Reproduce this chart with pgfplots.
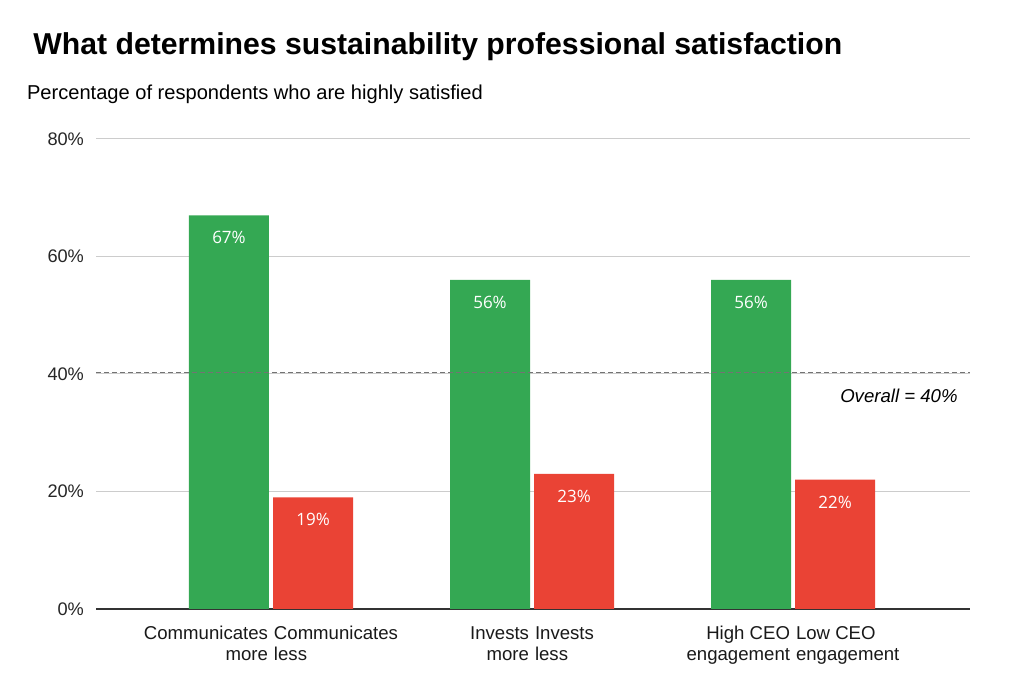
\documentclass[border=0pt]{standalone}
\usepackage{pgfplots}
\pgfplotsset{compat=1.18}
\usepackage{fontspec}
\setmainfont{Liberation Sans}
\newfontfamily\labelfont{Open Sans}
\definecolor{gg}{HTML}{34A853}
\definecolor{rr}{HTML}{EA4335}
\definecolor{gridc}{HTML}{CCCCCC}
\definecolor{axc}{HTML}{333333}
\begin{document}
\begin{tikzpicture}
\path[use as bounding box] (0,0) rectangle (511.5pt,337pt);
\node[anchor=base west, inner sep=0pt, font=\bfseries\fontsize{15.1}{17}\selectfont] at (16.5pt,309.5pt) {What determines sustainability professional satisfaction};
\node[anchor=base west, inner sep=0pt, font=\fontsize{10.05}{12}\selectfont] at (13.3pt,287pt) {Percentage of respondents who are highly satisfied};
\begin{axis}[at={(48pt,32.5pt)}, anchor=south west, scale only axis,
  width=437pt, height=235pt,
  xmin=-0.6705, xmax=2.678, ymin=0, ymax=80,
  ytick={0,20,40,60,80},
  yticklabel={\pgfmathprintnumber{\tick}\%},
  /pgf/number format/assume math mode=true,
  xtick={0,1,2},
  xticklabels={
    {\begin{tabular}{@{}r@{\hspace{3pt}}l@{}}Communicates & Communicates\\ more & less\end{tabular}},
    {\begin{tabular}{@{}r@{\hspace{3pt}}l@{}}Invests & Invests\\ more & less\end{tabular}},
    {\begin{tabular}{@{}r@{\hspace{3pt}}l@{}}High CEO & Low CEO\\ engagement & engagement\end{tabular}}},
  major tick length=0pt,
  axis x line*=bottom, axis y line*=left,
  x axis line style={draw=axc, line width=0.7pt, -},
  y axis line style={draw=none},
  ymajorgrids, grid style={draw=gridc, line width=0.5pt},
  yticklabel style={font=\fontsize{9.1}{10.5}\selectfont, text=black!85, xshift=-2.5pt},
  xticklabel style={font=\fontsize{9.3}{10.5}\selectfont, text=black!90, yshift=-4.2pt},
  clip=false,
]
\addplot[ybar, bar width=40pt, bar shift=0pt, fill=gg, draw=none,
  nodes near coords={\pgfmathprintnumber{\pgfplotspointmeta}\%},
  nodes near coords style={anchor=north, text=white, font=\labelfont\fontsize{8.5}{10}\selectfont, yshift=-4.5pt}]
  coordinates {(-0.161,67) (0.839,56) (1.839,56)};
\addplot[ybar, bar width=40pt, bar shift=0pt, fill=rr, draw=none,
  nodes near coords={\pgfmathprintnumber{\pgfplotspointmeta}\%},
  nodes near coords style={anchor=north, text=white, font=\labelfont\fontsize{8.5}{10}\selectfont, yshift=-4.5pt}]
  coordinates {(0.161,19) (1.161,23) (2.161,22)};
\addplot[color=black!55, line width=0.6pt, dash pattern=on 2.5pt off 1.5pt] coordinates {(-0.6705,40.3) (2.678,40.3)};
\node[anchor=base east, inner sep=0pt, font=\itshape\fontsize{9.3}{11}\selectfont] at (axis cs:2.632,35.1) {Overall = 40\%};
\end{axis}
\end{tikzpicture}
\end{document}
